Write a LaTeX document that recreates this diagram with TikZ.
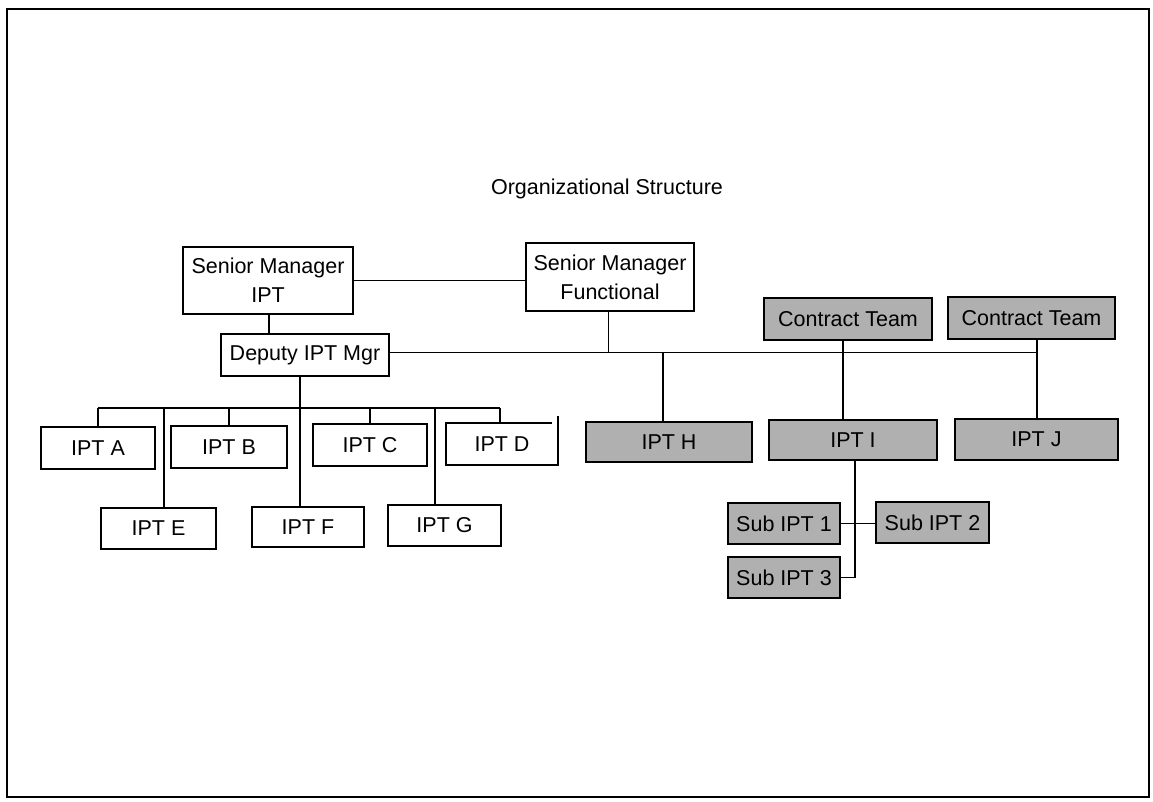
\documentclass[tikz,border=0pt]{standalone}
\usepackage{fontspec}
\setmainfont{Liberation Sans}
\begin{document}
\begin{tikzpicture}[x=1pt,y=-1pt,
  every node/.style={font=\fontsize{21.5}{29}\selectfont},
  box/.style={draw=black,line width=1.8pt,fill=white,inner sep=0pt,align=center},
  shade/.style={box,fill=ipgray},
  con/.style={line width=1.8pt,draw=black}]
\definecolor{ipgray}{RGB}{176,176,176}
\useasboundingbox (0,0) rectangle (1153,802);
\fill[white] (0,0) rectangle (1153,802);
\draw[line width=2.2pt] (7,9) rectangle (1149,797);

\node (title) at (607,189) {Organizational Structure};

\node[box,minimum width=170pt,minimum height=67pt] (smipt) at (268,280.5) {Senior Manager\\IPT};
\node[box,minimum width=168pt,minimum height=68pt] (smfun) at (610,277) {Senior Manager\\Functional};
\node[box,minimum width=168pt,minimum height=42pt] (dep) at (305,355) {Deputy IPT Mgr};

\node[box,minimum width=114pt,minimum height=42pt] (A) at (98,448) {IPT A};
\node[box,minimum width=116pt,minimum height=42pt] (B) at (229,447) {IPT B};
\node[box,minimum width=114pt,minimum height=42pt] (C) at (370,445) {IPT C};
\node[inner sep=0pt,minimum width=112pt,minimum height=42pt] (D) at (502,444) {IPT D};
\node[box,minimum width=115pt,minimum height=41pt] (E) at (158.5,528.5) {IPT E};
\node[box,minimum width=112pt,minimum height=40pt] (F) at (308,527) {IPT F};
\node[box,minimum width=113pt,minimum height=41pt] (G) at (444.5,525.5) {IPT G};

\node[shade,minimum width=166pt,minimum height=40pt] (H) at (669,442) {IPT H};
\node[shade,minimum width=168pt,minimum height=40pt] (I) at (853,440) {IPT I};
\node[shade,minimum width=163pt,minimum height=41pt] (J) at (1036.5,439.5) {IPT J};
\node[shade,minimum width=168pt,minimum height=42pt] (ct1) at (848,319) {Contract Team};
\node[shade,minimum width=167pt,minimum height=42pt] (ct2) at (1031.5,318) {Contract Team};
\node[shade,minimum width=112pt,minimum height=41pt] (s1) at (784,523.5) {Sub IPT 1};
\node[shade,minimum width=113pt,minimum height=41pt] (s2) at (932.5,522.5) {Sub IPT 2};
\node[shade,minimum width=112pt,minimum height=41pt] (s3) at (784,577.5) {Sub IPT 3};

% IPT D box with its open top-right corner
\draw[line width=1.8pt] ([xshift=-6pt]D.north east) -- (D.north west) -- (D.south west) -- (D.south east) -- ([yshift=7pt]D.north east);

% coordinates for bus lines
\coordinate (bus) at (0,352.5);
\coordinate (lbus) at (0,408);
\coordinate (xH) at (663,0);
\coordinate (xI) at (843,0);
\coordinate (xJ) at (1037,0);
\coordinate (xdep) at (300,0);
\coordinate (xE) at (164,0);
\coordinate (xG) at (435,0);

% upper connectors
\draw[con] (smipt.east) -- (smipt.east -| smfun.west);
\draw[con] (smipt.south -| 269,0) -- (dep.north -| 269,0);
\draw[con] (smfun.south -| 608.5,0) -- (bus -| 608.5,0);
\draw[con] (dep.east |- bus) -- (bus -| xJ);
\draw[con] (bus -| xH) -- (H.north -| xH);
\draw[con] (ct1.south -| xI) -- (I.north -| xI);
\draw[con] (ct2.south -| xJ) -- (J.north -| xJ);
\draw[con] (I.south -| 855,0) |- (s3.east);
\draw[con] (s1.east) -- (s1.east -| s2.west);

% left subtree
\draw[con] (dep.south -| xdep) -- (F.north -| xdep);
\draw[con] (lbus -| A.north) -- (lbus -| 500,0);
\draw[con] (lbus -| A.north) -- (A.north);
\draw[con] (lbus -| B.north) -- (B.north);
\draw[con] (lbus -| C.north) -- (C.north);
\draw[con] (lbus -| 500,0) -- (D.north -| 500,0);
\draw[con] (lbus -| xE) -- (E.north -| xE);
\draw[con] (lbus -| xG) -- (G.north -| xG);
\end{tikzpicture}
\end{document}
